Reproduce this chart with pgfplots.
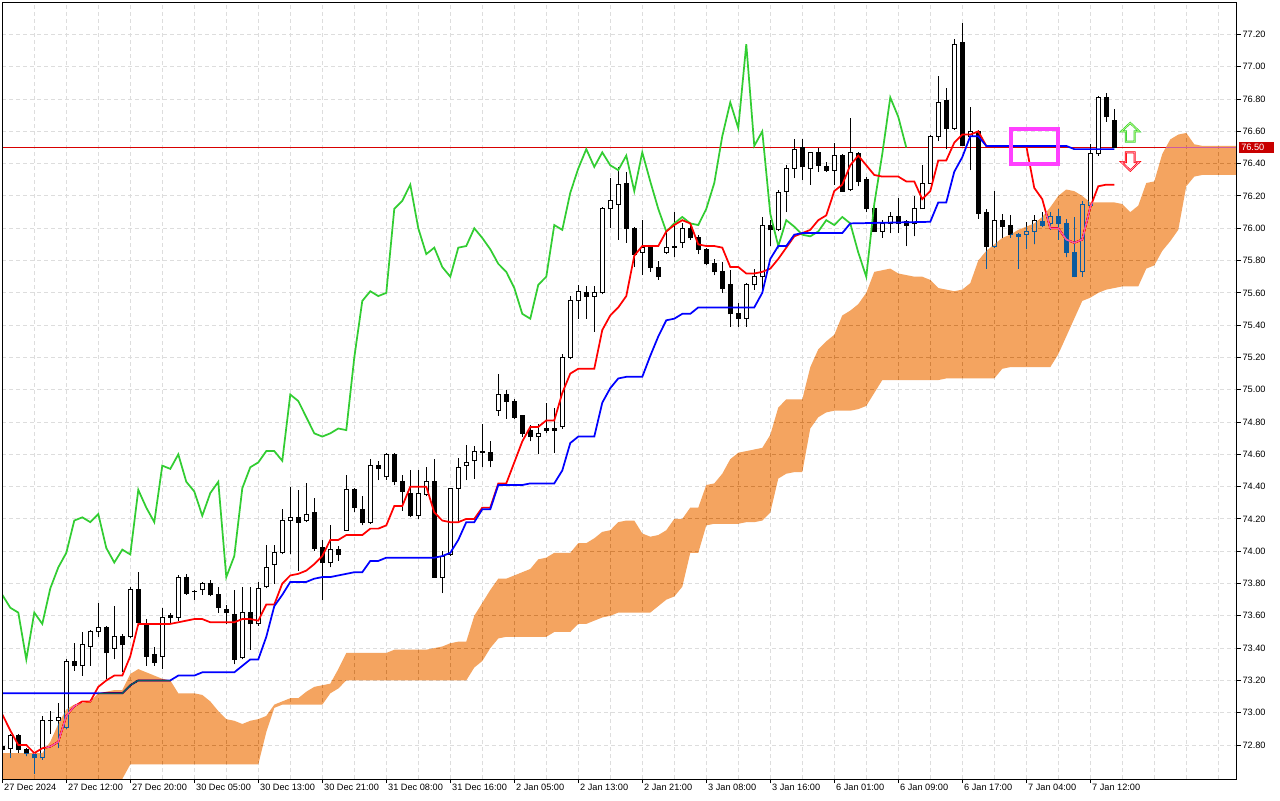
\documentclass[border=0pt]{standalone}
\usepackage{pgfplots}
\pgfplotsset{compat=1.18}
\usepackage{pgfplotstable}
\usepgfplotslibrary{fillbetween}
\usepackage{fontspec}
\setmainfont{Liberation Sans}
\definecolor{cloudx}{HTML}{0B5B9F}
\definecolor{tenkan}{HTML}{FF0000}
\definecolor{kijun}{HTML}{0000FF}
\definecolor{chikou}{HTML}{32CD32}
\definecolor{plabel}{HTML}{C80000}
\definecolor{pricec}{HTML}{D80000}
\definecolor{gridc}{HTML}{DDDDDD}
\definecolor{magbox}{HTML}{FF40FF}
\definecolor{uparrowin}{HTML}{C8FF8C}
\definecolor{dnarrowin}{HTML}{FFA0C8}

\pgfplotstableread{
i O H L C
0 72.79 72.80 72.76 72.77
1 72.78 72.87 72.72 72.86
2 72.86 72.87 72.75 72.77
3 72.77 72.78 72.73 72.75
4 72.74 72.75 72.62 72.72
5 72.72 72.98 72.71 72.95
6 72.95 73.01 72.87 72.95
7 72.95 73.06 72.78 72.97
8 72.91 73.33 72.90 73.32
9 73.32 73.43 73.26 73.29
10 73.29 73.50 73.23 73.42
11 73.41 73.51 73.29 73.50
12 73.50 73.68 73.47 73.53
13 73.53 73.54 73.21 73.37
14 73.40 73.66 73.33 73.47
15 73.47 73.49 73.25 73.42
16 73.47 73.78 73.46 73.76
17 73.76 73.87 73.54 73.56
18 73.55 73.58 73.29 73.35
19 73.36 73.41 73.29 73.31
20 73.35 73.65 73.27 73.59
21 73.59 73.62 73.55 73.60
22 73.59 73.85 73.57 73.84
23 73.84 73.86 73.73 73.74
24 73.75 73.76 73.70 73.75
25 73.76 73.81 73.73 73.80
26 73.80 73.82 73.72 73.73
27 73.73 73.78 73.62 73.65
28 73.64 73.67 73.55 73.62
29 73.61 73.76 73.30 73.33
30 73.34 73.78 73.33 73.62
31 73.62 73.78 73.39 73.55
32 73.55 73.81 73.54 73.77
33 73.78 74.04 73.77 73.90
34 73.92 74.04 73.80 73.99
35 73.99 74.26 73.98 74.19
36 74.19 74.40 73.98 74.21
37 74.21 74.38 73.88 74.18
38 74.19 74.42 74.18 74.23
39 74.24 74.33 74.00 74.02
40 74.02 74.07 73.70 73.93
41 73.93 74.16 73.90 74.01
42 74.01 74.03 73.94 73.98
43 74.13 74.47 74.13 74.38
44 74.38 74.39 74.24 74.27
45 74.26 74.34 74.16 74.18
46 74.18 74.57 74.17 74.53
47 74.53 74.56 74.44 74.51
48 74.46 74.61 74.44 74.60
49 74.60 74.61 74.41 74.43
50 74.43 74.47 74.25 74.37
51 74.36 74.50 74.21 74.22
52 74.22 74.50 74.20 74.36
53 74.35 74.52 74.34 74.43
54 74.43 74.57 73.84 73.84
55 73.84 74.00 73.74 73.97
56 73.98 74.39 73.97 74.39
57 74.39 74.58 74.19 74.52
58 74.53 74.66 74.44 74.55
59 74.56 74.65 74.45 74.62
60 74.61 74.79 74.52 74.62
61 74.61 74.68 74.52 74.56
62 74.87 75.10 74.84 74.97
63 74.97 75.00 74.82 74.93
64 74.93 74.94 74.82 74.83
65 74.84 74.84 74.71 74.73
66 74.75 74.78 74.68 74.71
67 74.71 74.79 74.60 74.73
68 74.75 74.92 74.73 74.76
69 74.76 74.89 74.61 74.75
70 74.77 75.22 74.76 75.20
71 75.20 75.58 75.19 75.55
72 75.55 75.65 75.44 75.61
73 75.60 75.64 75.44 75.58
74 75.58 75.64 75.36 75.60
75 75.60 76.13 75.59 76.12
76 76.12 76.31 76.00 76.17
77 76.15 76.38 75.93 76.27
78 76.28 76.35 75.91 76.00
79 76.00 76.01 75.76 75.84
80 75.85 76.05 75.71 75.88
81 75.88 75.89 75.73 75.76
82 75.76 75.80 75.68 75.70
83 75.85 75.98 75.84 75.88
84 75.88 76.10 75.82 75.89
85 75.91 76.03 75.88 76.00
86 76.00 76.03 75.93 75.94
87 75.94 75.96 75.84 75.87
88 75.87 75.88 75.77 75.78
89 75.78 75.81 75.71 75.73
90 75.73 75.79 75.60 75.63
91 75.65 75.74 75.39 75.47
92 75.47 75.54 75.39 75.44
93 75.44 75.66 75.39 75.65
94 75.65 75.75 75.62 75.70
95 75.70 76.07 75.60 76.02
96 76.02 76.05 75.89 75.99
97 75.99 76.24 75.98 76.22
98 76.23 76.39 76.10 76.37
99 76.37 76.55 76.31 76.49
100 76.50 76.55 76.30 76.38
101 76.37 76.47 76.27 76.47
102 76.47 76.50 76.35 76.39
103 76.38 76.41 76.35 76.36
104 76.36 76.53 76.27 76.45
105 76.45 76.46 76.23 76.23
106 76.24 76.68 76.23 76.47
107 76.46 76.47 76.26 76.29
108 76.30 76.32 76.10 76.12
109 76.12 76.14 75.98 75.98
110 75.98 76.05 75.94 76.03
111 76.03 76.10 75.97 76.07
112 76.07 76.19 75.97 76.03
113 76.04 76.05 75.89 76.02
114 76.03 76.20 75.95 76.12
115 76.12 76.39 76.12 76.28
116 76.28 76.58 76.28 76.57
117 76.57 76.94 76.54 76.78
118 76.79 76.87 76.49 76.62
119 76.62 77.17 76.61 77.14
120 77.15 77.27 76.51 76.51
121 76.57 76.75 76.36 76.60
122 76.60 76.61 76.06 76.09
123 76.10 76.12 75.75 75.89
124 75.89 76.23 75.88 76.05
125 76.05 76.09 75.94 76.01
126 76.02 76.08 75.94 75.96
127 75.96 75.97 75.75 75.95
128 75.96 76.04 75.87 75.98
129 75.98 76.08 75.90 76.05
130 76.04 76.10 76.01 76.02
131 76.03 76.10 75.99 76.07
132 76.07 76.12 75.93 76.03
133 76.03 76.06 75.82 75.85
134 75.85 76.07 75.70 75.70
135 75.73 76.17 75.70 76.15
136 76.14 76.52 76.14 76.46
137 76.46 76.82 76.45 76.81
138 76.81 76.84 76.66 76.69
139 76.67 76.74 76.50 76.50
}\candles

\pgfplotstableread{
i v
0 72.99
1 72.89
2 72.80
3 72.80
4 72.75
5 72.78
6 72.79
7 72.82
8 72.98
9 73.04
10 73.07
11 73.07
12 73.16
13 73.20
14 73.23
15 73.23
16 73.35
17 73.55
18 73.55
19 73.55
20 73.55
21 73.55
22 73.56
23 73.57
24 73.58
25 73.58
26 73.56
27 73.56
28 73.56
29 73.56
30 73.58
31 73.58
32 73.57
33 73.67
34 73.67
35 73.80
36 73.85
37 73.86
38 73.88
39 73.92
40 73.97
41 74.07
42 74.07
43 74.10
44 74.10
45 74.10
46 74.14
47 74.14
48 74.16
49 74.28
50 74.28
51 74.40
52 74.40
53 74.40
54 74.24
55 74.19
56 74.18
57 74.18
58 74.20
59 74.20
60 74.27
61 74.27
62 74.42
63 74.42
64 74.55
65 74.68
66 74.77
67 74.77
68 74.81
69 74.81
70 74.98
71 75.10
72 75.13
73 75.13
74 75.13
75 75.37
76 75.46
77 75.51
78 75.58
79 75.83
80 75.89
81 75.89
82 75.89
83 75.98
84 76.02
85 76.05
86 76.03
87 75.90
88 75.89
89 75.89
90 75.88
91 75.76
92 75.76
93 75.72
94 75.72
95 75.73
96 75.75
97 75.81
98 75.88
99 75.95
100 75.97
101 75.99
102 76.05
103 76.08
104 76.23
105 76.27
106 76.39
107 76.45
108 76.39
109 76.33
110 76.32
111 76.32
112 76.32
113 76.29
114 76.29
115 76.18
116 76.23
117 76.42
118 76.42
119 76.53
120 76.58
121 76.58
122 76.60
123 76.51
124 76.51
125 76.51
126 76.51
127 76.51
128 76.51
129 76.25
130 76.18
131 76.00
132 76.00
133 75.93
134 75.91
135 75.93
136 76.13
137 76.26
138 76.27
139 76.27
}\tenkantab

\pgfplotstableread{
i v
0 73.12
11 73.12
15 73.12
16 73.17
17 73.20
21 73.20
22 73.23
24 73.23
25 73.25
29 73.25
30 73.29
31 73.33
32 73.33
33 73.47
34 73.66
35 73.73
36 73.81
38 73.81
39 73.83
40 73.84
41 73.84
42 73.85
43 73.86
44 73.87
45 73.87
46 73.94
47 73.94
48 73.96
54 73.96
55 73.97
56 73.99
57 74.07
58 74.18
59 74.18
60 74.26
61 74.26
62 74.41
65 74.41
66 74.42
69 74.42
70 74.50
71 74.67
72 74.71
74 74.71
75 74.92
76 75.01
77 75.07
78 75.08
80 75.08
81 75.21
82 75.33
83 75.43
84 75.44
85 75.47
86 75.47
87 75.51
94 75.51
95 75.60
96 75.81
97 75.89
98 75.89
99 75.96
100 75.97
105 75.97
106 76.03
116 76.04
117 76.16
118 76.16
119 76.35
120 76.44
121 76.57
122 76.57
123 76.51
133 76.51
134 76.49
139 76.49
}\kijuntab

\pgfplotstableread{
i v
0 73.73
1 73.65
2 73.62
3 73.33
4 73.62
5 73.55
6 73.77
7 73.90
8 73.99
9 74.19
10 74.21
11 74.18
12 74.23
13 74.02
14 73.93
15 74.01
16 73.98
17 74.38
18 74.27
19 74.18
20 74.53
21 74.51
22 74.60
23 74.43
24 74.37
25 74.22
26 74.36
27 74.43
28 73.84
29 73.97
30 74.39
31 74.52
32 74.55
33 74.62
34 74.62
35 74.56
36 74.97
37 74.93
38 74.83
39 74.73
40 74.71
41 74.73
42 74.76
43 74.75
44 75.20
45 75.55
46 75.61
47 75.58
48 75.60
49 76.12
50 76.17
51 76.27
52 76.00
53 75.84
54 75.88
55 75.76
56 75.70
57 75.88
58 75.89
59 76.00
60 75.94
61 75.87
62 75.78
63 75.73
64 75.63
65 75.47
66 75.44
67 75.65
68 75.70
69 76.02
70 75.99
71 76.22
72 76.37
73 76.49
74 76.38
75 76.47
76 76.39
77 76.36
78 76.45
79 76.23
80 76.47
81 76.29
82 76.12
83 75.98
84 76.03
85 76.07
86 76.03
87 76.02
88 76.12
89 76.28
90 76.57
91 76.78
92 76.62
93 77.14
94 76.51
95 76.60
96 76.09
97 75.89
98 76.05
99 76.01
100 75.96
101 75.95
102 75.98
103 76.05
104 76.02
105 76.07
106 76.03
107 75.85
108 75.70
109 76.15
110 76.46
111 76.81
112 76.69
113 76.50
}\chikoutab

\pgfplotstableread{
i U B
0 72.75 72.50
1 72.75 72.50
2 72.75 72.50
3 72.75 72.50
4 72.75 72.50
5 72.75 72.50
6 72.82 72.50
7 72.93 72.50
8 73.02 72.50
9 73.05 72.50
10 73.06 72.50
11 73.07 72.50
12 73.12 72.50
13 73.13 72.50
14 73.14 72.50
15 73.14 72.59
16 73.24 72.68
17 73.27 72.68
18 73.25 72.68
19 73.23 72.68
20 73.21 72.68
21 73.20 72.68
22 73.12 72.68
23 73.12 72.68
24 73.12 72.68
25 73.11 72.68
26 73.07 72.68
27 73.01 72.68
28 72.96 72.68
29 72.95 72.68
30 72.93 72.68
31 72.95 72.68
32 72.96 72.68
33 72.98 72.88
34 73.05 73.03
35 73.07 73.05
36 73.09 73.05
37 73.09 73.05
38 73.13 73.05
39 73.16 73.05
40 73.17 73.05
41 73.18 73.12
42 73.27 73.15
43 73.37 73.20
44 73.37 73.20
45 73.37 73.20
46 73.37 73.20
47 73.37 73.20
48 73.37 73.20
49 73.39 73.20
50 73.39 73.20
51 73.39 73.20
52 73.39 73.20
53 73.39 73.20
54 73.40 73.20
55 73.41 73.20
56 73.43 73.20
57 73.44 73.20
58 73.44 73.20
59 73.60 73.28
60 73.68 73.32
61 73.76 73.40
62 73.83 73.46
63 73.83 73.47
64 73.85 73.47
65 73.87 73.47
66 73.89 73.47
67 73.95 73.47
68 73.96 73.47
69 73.99 73.50
70 73.99 73.50
71 73.99 73.50
72 74.05 73.55
73 74.05 73.55
74 74.08 73.57
75 74.12 73.59
76 74.13 73.60
77 74.18 73.62
78 74.19 73.62
79 74.19 73.62
80 74.11 73.62
81 74.09 73.62
82 74.10 73.66
83 74.13 73.70
84 74.20 73.72
85 74.20 73.78
86 74.27 73.99
87 74.27 73.99
88 74.41 74.16
89 74.42 74.17
90 74.48 74.17
91 74.57 74.17
92 74.61 74.17
93 74.62 74.18
94 74.63 74.18
95 74.64 74.19
96 74.72 74.24
97 74.89 74.45
98 74.94 74.48
99 74.94 74.49
100 74.94 74.49
101 75.14 74.76
102 75.25 74.83
103 75.30 74.86
104 75.34 74.87
105 75.46 74.87
106 75.49 74.87
107 75.53 74.88
108 75.60 74.90
109 75.73 74.98
110 75.74 75.06
111 75.75 75.06
112 75.72 75.06
113 75.71 75.06
114 75.70 75.06
115 75.70 75.06
116 75.68 75.06
117 75.63 75.06
118 75.62 75.07
119 75.61 75.07
120 75.62 75.07
121 75.66 75.07
122 75.80 75.07
123 75.86 75.07
124 75.90 75.07
125 75.94 75.13
126 75.96 75.14
127 75.99 75.14
128 76.01 75.14
129 76.03 75.14
130 76.07 75.14
131 76.13 75.14
132 76.20 75.22
133 76.24 75.33
134 76.23 75.44
135 76.20 75.55
136 76.16 75.57
137 76.16 75.60
138 76.16 75.62
139 76.16 75.63
140 76.15 75.64
141 76.10 75.64
142 76.14 75.64
143 76.28 75.75
144 76.29 75.77
145 76.46 75.86
146 76.55 75.92
147 76.58 75.99
148 76.59 76.26
149 76.52 76.32
150 76.51 76.33
151 76.51 76.33
152 76.51 76.33
153 76.51 76.33
154 76.51 76.33
155 76.51 76.33
}\cloudtab

\pgfplotstableread{
i p e
0 76.50 156
}\pricetab

\pgfplotsset{
  candlebar/.style={only marks, mark=*, mark size=0pt, mark options={draw=none, fill=none}},
}

\begin{document}
\begin{tikzpicture}
\begin{axis}[
  at={(1.725pt,15.75pt)}, anchor=south west,
  scale only axis, width=926pt, height=582pt,
  xmin=0, xmax=154.34, ymin=72.5895, ymax=77.395,
  clip mode=individual,
  fill between/on layer=main,
  axis line style={line width=0.75pt, black},
  xtick={0,8,...,136},
  xticklabels={27 Dec 2024,27 Dec 12:00,27 Dec 20:00,30 Dec 05:00,30 Dec 13:00,30 Dec 21:00,31 Dec 08:00,31 Dec 16:00,2 Jan 05:00,2 Jan 13:00,2 Jan 21:00,3 Jan 08:00,3 Jan 16:00,6 Jan 01:00,6 Jan 09:00,6 Jan 17:00,7 Jan 04:00,7 Jan 12:00},
  minor xtick={4,12,...,148,144,152},
  ytick={72.8,73,73.2,73.4,73.6,73.8,74,74.2,74.4,74.6,74.8,75,75.2,75.4,75.6,75.8,76,76.2,76.4,76.6,76.8,77,77.2},
  yticklabels={72.80,73.00,73.20,73.40,73.60,73.80,74.00,74.20,74.40,74.60,74.80,75.00,75.20,75.40,75.60,75.80,76.00,76.20,76.40,76.60,76.80,77.00,77.20},
  xtick pos=left, ytick pos=right, yticklabel pos=right,
  tick align=outside, major tick length=3pt, minor tick length=0pt,
  tick style={black, line width=0.75pt},
  grid=both,
  major grid style={draw=gridc, line width=0.75pt, dash pattern=on 3pt off 2.25pt},
  minor grid style={draw=gridc, line width=0.75pt, dash pattern=on 3pt off 2.25pt},
  tick label style={font=\fontsize{6.9}{8}\selectfont},
  xticklabel style={anchor=north west, inner sep=0pt, xshift=1.2pt, yshift=-0.5pt},
  yticklabel style={anchor=west, inner sep=0pt, xshift=1pt},
]
\begin{pgfonlayer}{axis background}
\fill[white] (rel axis cs:-0.01,-0.04) rectangle (rel axis cs:1.05,1.01);
\end{pgfonlayer}
% current price line, drawn as a horizontal error bar from x=0
\addplot[candlebar, error bars/.cd, x dir=plus, x explicit, error mark=none,
  error bar style={line width=0.8pt, pricec}]
  table[x=i, y=p, x error=e] {\pricetab};
% wicks
\addplot[candlebar, error bars/.cd, y dir=plus, y explicit, error mark=none,
  error bar style={line width=0.75pt, black}]
  table[x=i, y=L, y error expr={\thisrow{H}-\thisrow{L}}] {\candles};
% bearish bodies
\addplot[candlebar,
  restrict expr to domain={\thisrow{O}-\thisrow{C}}{-0.0001:10},
  error bars/.cd, y dir=plus, y explicit, error mark=none,
  error bar style={line width=3.75pt, black}]
  table[x=i, y expr={\thisrow{C}-0.0031}, y error expr={\thisrow{O}-\thisrow{C}+0.0062}] {\candles};
% bullish bodies outline
\addplot[candlebar,
  restrict expr to domain={\thisrow{C}-\thisrow{O}}{0.001:10},
  error bars/.cd, y dir=plus, y explicit, error mark=none,
  error bar style={line width=3.75pt, black}]
  table[x=i, y expr={\thisrow{O}-0.0031}, y error expr={\thisrow{C}-\thisrow{O}+0.0062}] {\candles};
% bullish bodies inside
\addplot[candlebar,
  restrict expr to domain={\thisrow{C}-\thisrow{O}}{0.015:10},
  error bars/.cd, y dir=plus, y explicit, error mark=none,
  error bar style={line width=2.25pt, white}]
  table[x=i, y expr={\thisrow{O}+0.0031}, y error expr={\thisrow{C}-\thisrow{O}-0.0062}] {\candles};
% ichimoku lines
\addplot[chikou, line width=1.3pt] table[x=i, y=v] {\chikoutab};
\addplot[tenkan, line width=1.3pt] table[x=i, y=v] {\tenkantab};
\addplot[kijun, line width=1.3pt] table[x=i, y=v] {\kijuntab};
% cloud
\addplot[name path=ua, draw=none, forget plot] table[x=i, y=U] {\cloudtab};
\addplot[name path=lb, draw=none, forget plot] table[x=i, y=B] {\cloudtab};
\addplot[fill=cloudx, draw=none, blend mode=difference] fill between[of=ua and lb];
% frame
\draw[black, line width=0.75pt] (rel axis cs:0,0) rectangle (rel axis cs:1,1);
% annotations
\draw[magbox, line width=3pt] (axis cs:126.1,76.617) rectangle (axis cs:132.0,76.398);
\draw[chikou, line width=1.5pt, fill=white] (axis cs:141.0,76.652) -- (axis cs:142.1,76.600) -- (axis cs:141.55,76.600) -- (axis cs:141.55,76.536) -- (axis cs:140.45,76.536) -- (axis cs:140.45,76.600) -- (axis cs:139.9,76.600) -- cycle;
\draw[uparrowin, line width=0.5pt] (axis cs:141.0,76.652) -- (axis cs:142.1,76.600) -- (axis cs:141.55,76.600) -- (axis cs:141.55,76.536) -- (axis cs:140.45,76.536) -- (axis cs:140.45,76.600) -- (axis cs:139.9,76.600) -- cycle;
\draw[tenkan, line width=1.5pt, fill=white] (axis cs:140.45,76.470) -- (axis cs:141.55,76.470) -- (axis cs:141.55,76.410) -- (axis cs:142.1,76.410) -- (axis cs:141.0,76.357) -- (axis cs:139.9,76.410) -- (axis cs:140.45,76.410) -- cycle;
\draw[dnarrowin, line width=0.5pt] (axis cs:140.45,76.470) -- (axis cs:141.55,76.470) -- (axis cs:141.55,76.410) -- (axis cs:142.1,76.410) -- (axis cs:141.0,76.357) -- (axis cs:139.9,76.410) -- (axis cs:140.45,76.410) -- cycle;
\coordinate (pl) at (axis cs:154.34,76.50);
\end{axis}
\node[anchor=west, fill=plabel, text=white, inner xsep=1.5pt, inner ysep=0pt, minimum height=8pt, text width=23pt, align=left, font=\fontsize{6.9}{8}\selectfont] at ([xshift=1.5pt]pl) {76.50};
\pgfresetboundingbox
\useasboundingbox (0,0) rectangle (960pt,600pt);
\end{tikzpicture}
\end{document}
